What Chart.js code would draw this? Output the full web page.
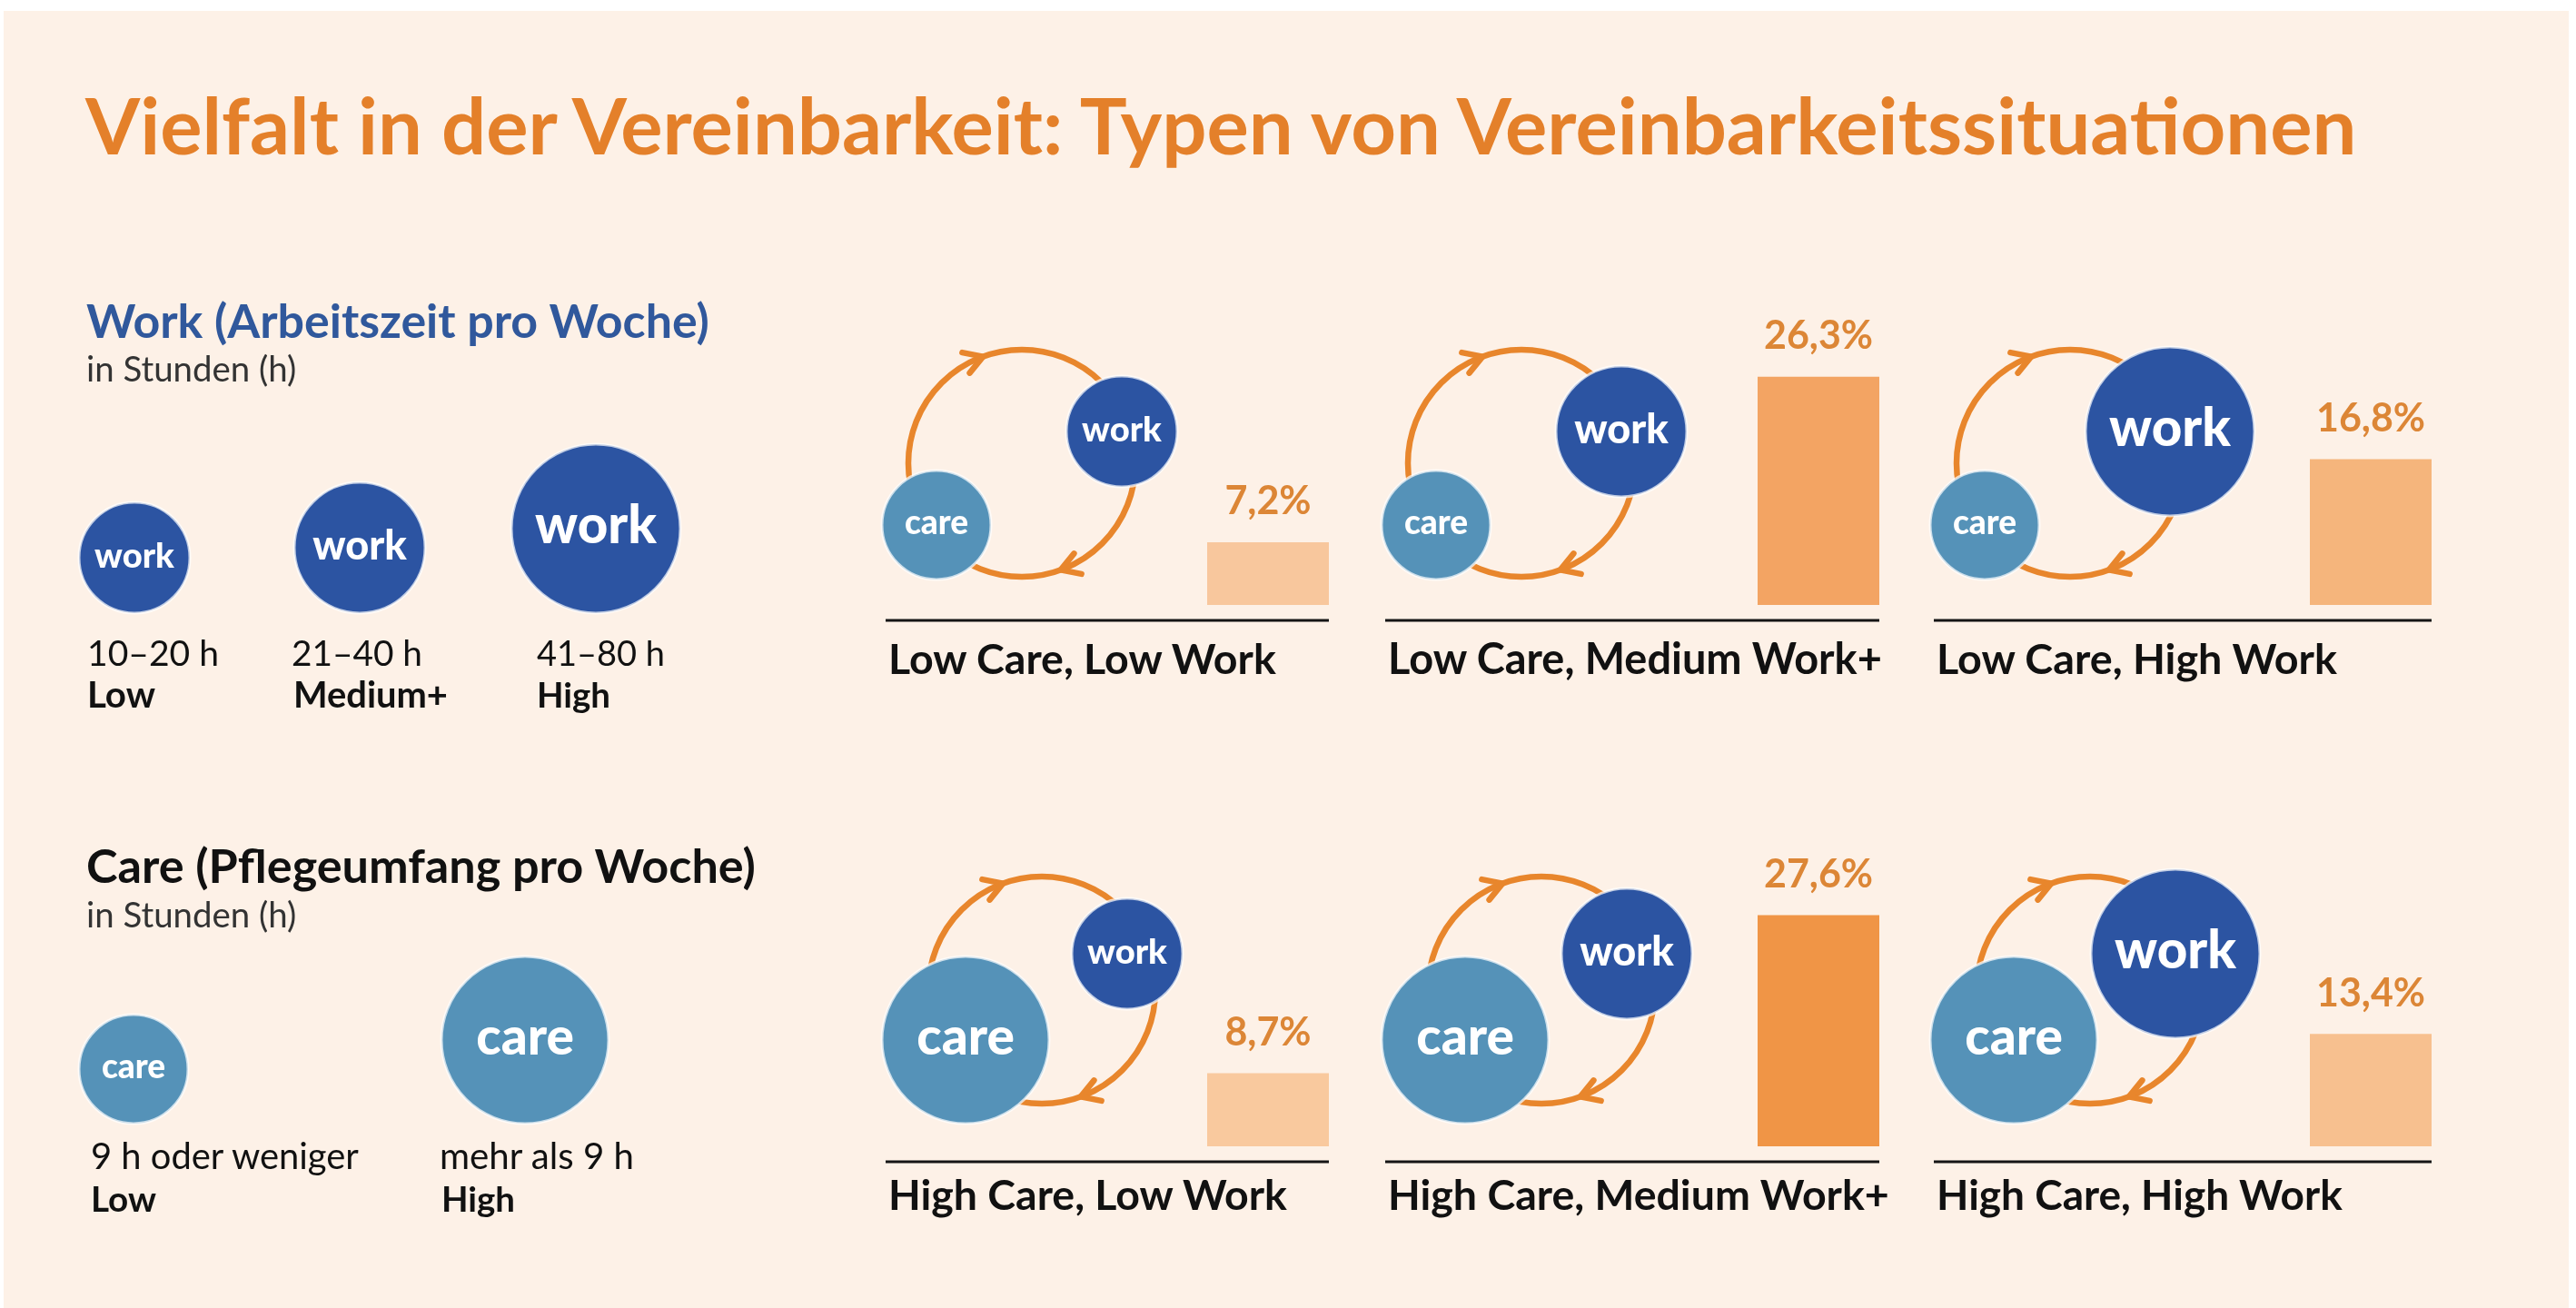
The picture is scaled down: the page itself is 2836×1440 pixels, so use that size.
<!DOCTYPE html>
<html lang="de">
<head>
<meta charset="utf-8">
<title>Vielfalt in der Vereinbarkeit</title>
<script src="https://cdn.jsdelivr.net/npm/chart.js@4.4.1/dist/chart.umd.min.js"></script>
<style>
  html, body { margin: 0; padding: 0; }
  body {
    width: 2836px; height: 1440px; position: relative; overflow: hidden;
    background: #fff; font-family: Lato, 'Open Sans', sans-serif;
  }
  .sheet { position: absolute; left: 4px; top: 12px; right: 8px; bottom: 0; background: #fdf1e7; }
  .txt { position: absolute; white-space: nowrap; line-height: 1.2; }
  canvas { position: absolute; }
</style>
</head>
<body>
<div class="sheet"></div>
<canvas id="legend" width="900" height="1440" style="left:0;top:0"></canvas>
<div id="panels"></div>
<div id="texts"></div>
<script>
// legend categories
const workRanges = ['10–20 h', '21–40 h', '41–80 h'];
const workNames = ['Low', 'Medium+', 'High'];
const careRanges = ['9 h oder weniger', 'mehr als 9 h'];
const careNames = ['Low', 'High'];

// the six types and their share
const panelLabels = [
  'Low Care, Low Work', 'Low Care, Medium Work+', 'Low Care, High Work',
  'High Care, Low Work', 'High Care, Medium Work+', 'High Care, High Work'
];
const panelCare = ['Low', 'Low', 'Low', 'High', 'High', 'High'];
const panelWork = ['Low', 'Medium+', 'High', 'Low', 'Medium+', 'High'];
const shares = [7.2, 26.3, 16.8, 8.7, 27.6, 13.4];
const axisMax = [30.4, 31.5]; // y max per row

// styles
const ORANGE = '#e4802a';
const VALUE = '#dc8636';
const BLUE = '#2c54a2';
const CARE = '#5592b8';
const RING = '#e8862c';
const barColors = ['#f8c79d', '#f3a463', '#f5b57c', '#f9c99e', '#f09546', '#f7c08f'];
const workR = { 'Low': 61, 'Medium+': 72, 'High': 93 };
const careR = { 'Low': 60, 'High': 92 };

// layout
const cols = [{ x: 975, w: 488 }, { x: 1525, w: 544 }, { x: 2129, w: 548 }];
const lineY = [683, 1279];
const labelDrop = [59, 53];
const labelWidths = [427, 544, 441, 439, 552, 447];
const BAR_W = 134;
const BAR_GAP = 17;
const PAD_L = 24;
const LINE_IN_CANVAS = 345;
const CANVAS_H = 360;

function addText(t, x, base, w, size, weight, color) {
  const el = document.createElement('div');
  el.className = 'txt';
  el.textContent = t;
  el.style.fontSize = size + 'px';
  el.style.fontWeight = weight;
  el.style.color = color;
  el.style.left = x + 'px';
  el.style.top = '0px';
  document.getElementById('texts').appendChild(el);
  let fs = size * w / el.getBoundingClientRect().width;
  fs = Math.max(size * 0.85, Math.min(size * 1.2, fs));
  el.style.fontSize = fs + 'px';
  const mark = document.createElement('span');
  mark.style.cssText = 'display:inline-block;width:0;height:0;vertical-align:baseline';
  el.appendChild(mark);
  const b = mark.getBoundingClientRect().top - el.getBoundingClientRect().top;
  el.removeChild(mark);
  el.style.top = (base - b) + 'px';
}

function badge(ctx, x, y, r, fill, word) {
  ctx.beginPath();
  ctx.arc(x, y, r, 0, Math.PI * 2);
  ctx.fillStyle = fill;
  ctx.fill();
  ctx.lineWidth = 3;
  ctx.strokeStyle = 'rgba(255,255,255,0.7)';
  ctx.stroke();
  const target = r * (word === 'work' ? 1.44 : 1.17);
  ctx.font = '900 100px Lato';
  const fs = 100 * target / ctx.measureText(word).width;
  ctx.font = '900 ' + fs + 'px Lato';
  ctx.fillStyle = '#fff';
  ctx.textAlign = 'center';
  ctx.textBaseline = 'alphabetic';
  ctx.fillText(word, x, y + fs * 0.28);
}

function cycle(ctx, cx, cy, R) {
  ctx.strokeStyle = RING;
  ctx.lineWidth = 6.5;
  ctx.lineCap = 'round';
  ctx.beginPath();
  ctx.arc(cx, cy, R, 0, Math.PI * 2);
  ctx.stroke();
  [-110, 70].forEach(deg => {
    const a = deg * Math.PI / 180;
    const px = cx + R * Math.cos(a), py = cy + R * Math.sin(a);
    const tx = -Math.sin(a), ty = Math.cos(a);
    const nx = Math.cos(a), ny = Math.sin(a);
    ctx.beginPath();
    ctx.moveTo(px - tx * 20 + nx * 12, py - ty * 20 + ny * 12);
    ctx.lineTo(px, py);
    ctx.lineTo(px - tx * 20 - nx * 12, py - ty * 20 - ny * 12);
    ctx.stroke();
  });
}

const fmt = v => v.toFixed(1).replace('.', ',') + '%';

const panelDecor = {
  id: 'panelDecor',
  afterDraw(chart, args, opts) {
    const { ctx, chartArea } = chart;
    const L = chartArea.bottom + BAR_GAP;
    ctx.save();
    ctx.fillStyle = '#151515';
    ctx.fillRect(PAD_L, L - 1.5, chart.width - PAD_L, 3);

    const hi = opts.care === 'High';
    const cx = PAD_L + (hi ? 172 : 150);
    const cy = L - (hi ? 189 : 173);
    cycle(ctx, cx, cy, 125);
    const wo = hi ? [94, -40] : [110, -35];
    const co = hi ? [-84, 55] : [-94, 68];
    badge(ctx, cx + co[0], cy + co[1], careR[opts.care], CARE, 'care');
    badge(ctx, cx + wo[0], cy + wo[1], workR[opts.work], BLUE, 'work');

    const bar = chart.getDatasetMeta(0).data[0];
    ctx.fillStyle = VALUE;
    ctx.font = '700 43px Lato';
    ctx.textAlign = 'center';
    ctx.textBaseline = 'alphabetic';
    ctx.fillText(fmt(chart.data.datasets[0].data[0]), bar.x, bar.y - 31);
    ctx.restore();
  }
};

// headings
addText('Vielfalt in der Vereinbarkeit: Typen von Vereinbarkeitssituationen', 94, 170, 2501, 80, 700, ORANGE);
addText('Work (Arbeitszeit pro Woche)', 95, 372, 686, 48, 700, '#30589c');
addText('in Stunden (h)', 95, 420, 241, 32, 400, '#333');
addText('Care (Pflegeumfang pro Woche)', 95, 972, 737, 48, 700, '#111');
addText('in Stunden (h)', 95, 1021, 241, 32, 400, '#333');

// legend
const lg = document.getElementById('legend').getContext('2d');
const workX = [148, 396, 656];
const workRangeX = [96, 321, 591];
const workNameX = [96, 323, 591];
const workRangeW = [145, 144, 141];
const workNameW = [75, 170, 81];
workNames.forEach((n, i) => {
  badge(lg, workX[i], 675 - workR[n], workR[n], BLUE, 'work');
  addText(workRanges[i], workRangeX[i], 733, workRangeW[i], 37, 400, '#111');
  addText(n, workNameX[i], 779, workNameW[i], 37, 700, '#111');
});
const careX = [147, 578];
const careRangeX = [100, 484];
const careNameX = [100, 486];
const careRangeW = [295, 214];
const careNameW = [72, 81];
careNames.forEach((n, i) => {
  badge(lg, careX[i], 1237 - careR[n], careR[n], CARE, 'care');
  addText(careRanges[i], careRangeX[i], 1287, careRangeW[i], 37, 400, '#111');
  addText(n, careNameX[i], 1334, careNameW[i], 37, 700, '#111');
});

// panels: one small bar chart per type
panelLabels.forEach((label, i) => {
  const row = Math.floor(i / 3);
  const col = cols[i % 3];
  const cv = document.createElement('canvas');
  cv.width = PAD_L + col.w;
  cv.height = CANVAS_H;
  cv.style.left = (col.x - PAD_L) + 'px';
  cv.style.top = (lineY[row] - LINE_IN_CANVAS) + 'px';
  document.getElementById('panels').appendChild(cv);

  new Chart(cv, {
    type: 'bar',
    data: {
      labels: [label],
      datasets: [{
        data: [shares[i]],
        backgroundColor: barColors[i],
        barPercentage: 1,
        categoryPercentage: 1
      }]
    },
    options: {
      responsive: false,
      animation: false,
      devicePixelRatio: 1,
      layout: {
        padding: { left: PAD_L + col.w - BAR_W, right: 0, top: 38, bottom: CANVAS_H - LINE_IN_CANVAS + BAR_GAP }
      },
      scales: {
        x: { display: false },
        y: { display: false, min: 0, max: axisMax[row] }
      },
      plugins: {
        legend: { display: false },
        tooltip: { enabled: false },
        panelDecor: { care: panelCare[i], work: panelWork[i] }
      }
    },
    plugins: [panelDecor]
  });

  addText(label, col.x + 3, lineY[row] + labelDrop[row], labelWidths[i], 42, 700, '#111');
});
</script>
</body>
</html>
